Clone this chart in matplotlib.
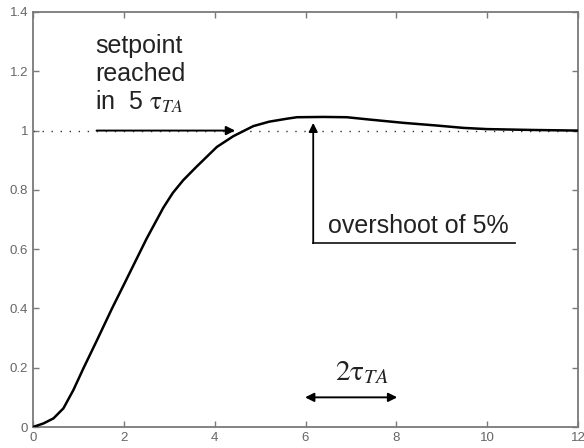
import matplotlib
matplotlib.use("Agg")
import matplotlib.pyplot as plt

# ---- data ----
time = [0, 0.23, 0.45, 0.67, 0.89, 1.11, 1.40, 1.74, 2.0, 2.50, 2.87, 3.08,
        3.31, 3.60, 4.05, 4.41, 4.85, 5.20, 5.59, 5.81, 6.40, 6.91, 7.42, 8.16,
        8.89, 9.48, 9.99, 11.0, 12.0]
response = [0, 0.012, 0.029, 0.063, 0.125, 0.198, 0.29, 0.40, 0.48, 0.635,
            0.74, 0.79, 0.833, 0.878, 0.945, 0.981, 1.015, 1.030, 1.040, 1.045,
            1.046, 1.045, 1.037, 1.026, 1.017, 1.009, 1.005, 1.002, 1.0]
setpoint = 1.0
x_ticks = [0, 2, 4, 6, 8, 10, 12]
y_ticks = [0, 0.2, 0.4, 0.6, 0.8, 1.0, 1.2, 1.4]
y_tick_labels = ["0", "0.2", "0.4", "0.6", "0.8", "1", "1.2", "1.4"]

plt.rcParams['mathtext.fontset'] = 'stix'
plt.rcParams['font.family'] = ['Liberation Sans', 'DejaVu Sans']

fig = plt.figure(figsize=(5.84, 4.48), dpi=100)
ax = fig.add_axes([33 / 584, 21 / 448, 545 / 584, 415 / 448])

gray = '#7a7a7a'
ax.plot(time, response, color='black', lw=1.8, zorder=3)
ax.plot([0, 12], [setpoint, setpoint], color='#333333', lw=1.0,
        linestyle=(0, (1, 5.5)), zorder=2)

ax.set_xlim(0, 12)
ax.set_ylim(0, 1.4)
ax.set_xticks(x_ticks)
ax.set_xticklabels([str(t) for t in x_ticks])
ax.set_yticks(y_ticks)
ax.set_yticklabels(y_tick_labels)
ax.tick_params(direction='in', length=4, width=1, color=gray, labelcolor='#666666',
               labelsize=9.5, top=True, right=True, pad=3.5)
for s in ax.spines.values():
    s.set_color(gray)
    s.set_linewidth(1.3)

# setpoint arrow + text
ax.annotate('', xy=(4.45, 1.0), xytext=(1.40, 1.0),
            arrowprops=dict(arrowstyle='-|>', mutation_scale=13, lw=1.4,
                            color='black', shrinkA=0, shrinkB=0))
fs = 18
ax.text(1.37, 1.262, 'setpoint', fontsize=fs, color='#222222', va='baseline')
ax.text(1.37, 1.167, 'reached', fontsize=fs, color='#222222', va='baseline')
ax.text(1.37, 1.069, r'in  5 $\mathrm{\tau}_{\mathit{TA}}$', fontsize=fs,
        color='#222222', va='baseline')

# overshoot arrow
ax.plot([6.17, 10.62], [0.62, 0.62], color='#222222', lw=1.3)
ax.annotate('', xy=(6.17, 1.026), xytext=(6.17, 0.62),
            arrowprops=dict(arrowstyle='-|>', mutation_scale=13, lw=1.3,
                            color='black', shrinkA=0, shrinkB=0))
ax.text(6.5, 0.655, 'overshoot of 5%', fontsize=fs, color='#222222', va='baseline')

# 2 tau arrow
ax.annotate('', xy=(8.02, 0.10), xytext=(5.99, 0.10),
            arrowprops=dict(arrowstyle='<|-|>', mutation_scale=13, lw=1.4,
                            color='black', shrinkA=0, shrinkB=0))
ax.text(6.65, 0.159, r'$\mathrm{2\tau}_{\mathit{TA}}$', fontsize=21,
        color='#222222', va='baseline')

fig.savefig('out.png', dpi=100)
